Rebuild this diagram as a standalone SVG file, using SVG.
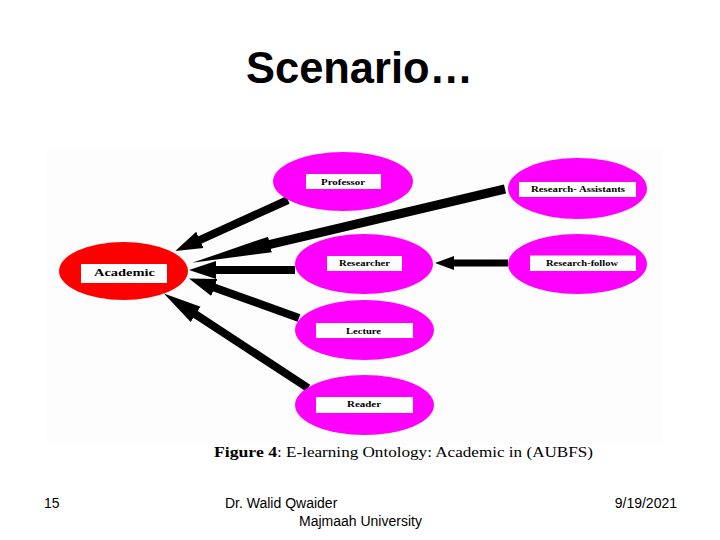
<svg xmlns="http://www.w3.org/2000/svg" width="720" height="540" viewBox="0 0 720 540">
<style>
text{font-family:"Liberation Sans",Arial,sans-serif;fill:#000}
.foot{font-size:14px}
.lab{font-family:"Liberation Serif","Times New Roman",serif;font-weight:bold;font-size:8.5px}
.cap{font-family:"Liberation Serif","Times New Roman",serif;font-size:15px}
.box{fill:#fff}
.p{fill:#ff00ff}
.c{stroke:#000;fill:none}
</style>
<defs>
<marker id="h27" markerUnits="userSpaceOnUse" markerWidth="30" markerHeight="24" refX="1" refY="12" orient="auto"><path d="M0 3L27 12L0 21L0 12Z"/></marker>
<marker id="h38" markerUnits="userSpaceOnUse" markerWidth="42" markerHeight="24" refX="1" refY="12" orient="auto"><path d="M0 3L38 12L0 21L0 12Z"/></marker>
<marker id="h80" markerUnits="userSpaceOnUse" markerWidth="84" markerHeight="24" refX="1" refY="12" orient="auto"><path d="M0 4L80 12L0 20Z"/></marker>
<marker id="h20" markerUnits="userSpaceOnUse" markerWidth="24" markerHeight="24" refX="1" refY="12" orient="auto"><path d="M0 5L19 12L0 19Z"/></marker>
</defs>
<rect width="720" height="540" fill="#fff"/>
<rect x="47" y="148" width="616" height="297" fill="#fdfdfd"/>
<text x="246" y="83" font-size="44" font-weight="bold" textLength="227" lengthAdjust="spacingAndGlyphs">Scenario…</text>
<g id="connectors">
<path class="c" stroke-width="8" d="M288 200L199 240.300" marker-end="url(#h27)"/>
<path class="c" stroke-width="9" d="M505 189L269 244.700" marker-end="url(#h80)"/>
<path class="c" stroke-width="8" d="M295 270H215" marker-end="url(#h27)"/>
<path class="c" stroke-width="8" d="M299 318L213.400 287.200" marker-end="url(#h27)"/>
<path class="c" stroke-width="8" d="M308 388L194.800 313.800" marker-end="url(#h38)"/>
<path class="c" stroke-width="7" d="M508 263H453" marker-end="url(#h20)"/>
</g>
<g id="academic"><ellipse cx="123.500" cy="271" rx="64.500" ry="29" fill="#ff0000"/><rect class="box" x="81" y="264" width="86" height="19"/><text class="lab" x="94" y="276" style="font-size:11px" textLength="61" lengthAdjust="spacingAndGlyphs">Academic</text></g>
<g id="professor"><ellipse class="p" cx="343" cy="181.500" rx="70" ry="29.500"/><rect class="box" x="306" y="174" width="75" height="15"/><text class="lab" x="321" y="185" textLength="44" lengthAdjust="spacingAndGlyphs">Professor</text></g>
<g id="research-assistants"><ellipse class="p" cx="577.500" cy="188.500" rx="69.500" ry="30.500"/><rect class="box" x="519" y="182" width="117" height="15"/><text class="lab" x="531" y="192" textLength="94" lengthAdjust="spacingAndGlyphs">Research- Assistants</text></g>
<g id="researcher"><ellipse class="p" cx="364" cy="264" rx="69" ry="30"/><rect class="box" x="327" y="256" width="75" height="15"/><text class="lab" x="339" y="266" textLength="51" lengthAdjust="spacingAndGlyphs">Researcher</text></g>
<g id="research-follow"><ellipse class="p" cx="577.500" cy="264" rx="69.500" ry="30"/><rect class="box" x="530" y="255.500" width="106" height="15.500"/><text class="lab" x="546" y="266" textLength="72" lengthAdjust="spacingAndGlyphs">Research-follow</text></g>
<g id="lecture"><ellipse class="p" cx="364.500" cy="330" rx="69.500" ry="30"/><rect class="box" x="316" y="323" width="97" height="15"/><text class="lab" x="346" y="334" textLength="35" lengthAdjust="spacingAndGlyphs">Lecture</text></g>
<g id="reader"><ellipse class="p" cx="364.500" cy="405" rx="69.500" ry="30"/><rect class="box" x="316" y="397" width="97" height="16"/><text class="lab" x="347" y="407" textLength="34" lengthAdjust="spacingAndGlyphs">Reader</text></g>
<text class="cap" x="214" y="457" font-weight="bold" textLength="63" lengthAdjust="spacingAndGlyphs">Figure 4</text>
<text class="cap" x="277" y="457" textLength="316" lengthAdjust="spacingAndGlyphs">: E-learning Ontology: Academic in (AUBFS)</text>
<text class="foot" x="44" y="508">15</text>
<text class="foot" x="225" y="508">Dr. Walid Qwaider</text>
<text class="foot" x="299" y="526">Majmaah University</text>
<text class="foot" x="677" y="508" text-anchor="end">9/19/2021</text>
</svg>
